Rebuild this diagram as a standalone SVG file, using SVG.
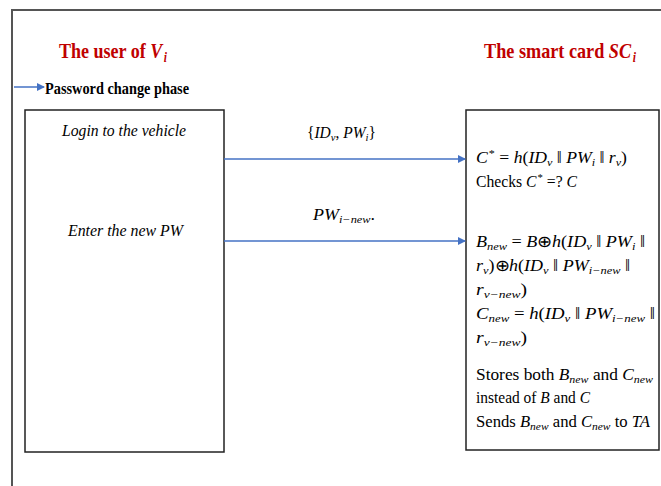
<svg xmlns="http://www.w3.org/2000/svg" width="661" height="486" viewBox="0 0 661 486">
<style>
.t{font-family:"Liberation Serif",serif;fill:#000}
.m{font-size:16px}
.i{font-style:italic}
.s{font-size:11px}
.title{font-size:22px;font-weight:bold;fill:#c00000}
.box{fill:#fff;stroke:#222;stroke-width:1.5}
.conn{stroke:#4472c4;stroke-width:1.5;fill:none}
</style>
<defs>
<marker id="ah" markerWidth="8" markerHeight="8" refX="7" refY="4" orient="auto" markerUnits="userSpaceOnUse">
<path d="M0,0 L8,4 L0,8 z" fill="#4472c4"/>
</marker>
</defs>
<rect x="0" y="0" width="661" height="486" fill="#fff"/>
<rect x="12" y="10" width="700" height="500" fill="none" stroke="#555" stroke-width="2"/>

<g id="headers">
<text class="t title" x="59" y="58" textLength="108" lengthAdjust="spacingAndGlyphs">The user of <tspan class="i">V</tspan><tspan class="i" font-size="14" dx="2" dy="4">i</tspan></text>
<text class="t title" x="484" y="58" textLength="152" lengthAdjust="spacingAndGlyphs">The smart card <tspan class="i">SC</tspan><tspan class="i" font-size="14" dx="2" dy="4">i</tspan></text>
</g>

<g id="phase">
<line class="conn" x1="14" y1="87" x2="44" y2="87" marker-end="url(#ah)"/>
<text class="t" x="45" y="94" font-size="17" font-weight="bold" textLength="144" lengthAdjust="spacingAndGlyphs">Password change phase</text>
</g>

<g id="user">
<rect class="box" x="25" y="110" width="199" height="342"/>
<text class="t m i" x="62" y="136" textLength="124" lengthAdjust="spacingAndGlyphs">Login to the vehicle</text>
<text class="t m i" x="68" y="236" textLength="115" lengthAdjust="spacingAndGlyphs">Enter the new PW</text>
</g>

<g id="smartcard">
<rect class="box" x="466" y="110" width="193" height="340"/>
<text class="t m" x="476" y="163" textLength="151" lengthAdjust="spacingAndGlyphs"><tspan class="i">C</tspan><tspan class="s" dx="1" dy="-6">*</tspan><tspan dy="6"> = </tspan><tspan class="i">h</tspan>(<tspan class="i">ID</tspan><tspan class="i s" dy="3">v</tspan><tspan dy="-3"> ‖ </tspan><tspan class="i">PW</tspan><tspan class="i s" dy="3">i</tspan><tspan dy="-3"> ‖ </tspan><tspan class="i">r</tspan><tspan class="i s" dy="3">v</tspan><tspan dy="-3">)</tspan></text>
<text class="t m" x="476" y="187" textLength="101" lengthAdjust="spacingAndGlyphs">Checks <tspan class="i">C</tspan><tspan class="s" dx="1" dy="-6">*</tspan><tspan dy="6"> =? </tspan><tspan class="i">C</tspan></text>

<text class="t m" x="476" y="247" textLength="169" lengthAdjust="spacingAndGlyphs"><tspan class="i">B</tspan><tspan class="i s" dy="3">new</tspan><tspan dy="-3"> = </tspan><tspan class="i">B</tspan>⊕<tspan class="i">h</tspan>(<tspan class="i">ID</tspan><tspan class="i s" dy="3">v</tspan><tspan dy="-3"> ‖ </tspan><tspan class="i">PW</tspan><tspan class="i s" dy="3">i</tspan><tspan dy="-3"> ‖</tspan></text>
<text class="t m" x="476" y="271" textLength="154" lengthAdjust="spacingAndGlyphs"><tspan class="i">r</tspan><tspan class="i s" dy="3">v</tspan><tspan dy="-3">)⊕</tspan><tspan class="i">h</tspan>(<tspan class="i">ID</tspan><tspan class="i s" dy="3">v</tspan><tspan dy="-3"> ‖ </tspan><tspan class="i">PW</tspan><tspan class="i s" dy="3">i−new</tspan><tspan dy="-3"> ‖</tspan></text>
<text class="t m" x="476" y="295" textLength="51" lengthAdjust="spacingAndGlyphs"><tspan class="i">r</tspan><tspan class="i s" dy="3">v−new</tspan><tspan dy="-3">)</tspan></text>
<text class="t m" x="476" y="319" textLength="179" lengthAdjust="spacingAndGlyphs"><tspan class="i">C</tspan><tspan class="i s" dy="3">new</tspan><tspan dy="-3"> = </tspan><tspan class="i">h</tspan>(<tspan class="i">ID</tspan><tspan class="i s" dy="3">v</tspan><tspan dy="-3"> ‖ </tspan><tspan class="i">PW</tspan><tspan class="i s" dy="3">i−new</tspan><tspan dy="-3"> ‖</tspan></text>
<text class="t m" x="476" y="343" textLength="51" lengthAdjust="spacingAndGlyphs"><tspan class="i">r</tspan><tspan class="i s" dy="3">v−new</tspan><tspan dy="-3">)</tspan></text>
<text class="t m" x="476" y="380" textLength="177" lengthAdjust="spacingAndGlyphs">Stores both  <tspan class="i">B</tspan><tspan class="i s" dy="3">new</tspan><tspan dy="-3"> and </tspan><tspan class="i">C</tspan><tspan class="i s" dy="3">new</tspan></text>
<text class="t m" x="476" y="403" textLength="114" lengthAdjust="spacingAndGlyphs">instead of <tspan class="i">B</tspan> and <tspan class="i">C</tspan></text>
<text class="t m" x="476" y="427" textLength="174" lengthAdjust="spacingAndGlyphs">Sends <tspan class="i">B</tspan><tspan class="i s" dy="3">new</tspan><tspan dy="-3"> and </tspan><tspan class="i">C</tspan><tspan class="i s" dy="3">new</tspan><tspan dy="-3"> to </tspan><tspan class="i">TA</tspan></text>
</g>

<g id="connectors">
<line class="conn" x1="224" y1="159" x2="465" y2="159" marker-end="url(#ah)"/>
<text class="t m" x="307" y="138" textLength="69" lengthAdjust="spacingAndGlyphs">{<tspan class="i">ID</tspan><tspan class="i s" dy="3">v</tspan><tspan dy="-3">, </tspan><tspan class="i">PW</tspan><tspan class="i s" dy="3">i</tspan><tspan dy="-3">}</tspan></text>
<line class="conn" x1="224" y1="241" x2="465" y2="241" marker-end="url(#ah)"/>
<text class="t m" x="313" y="220" textLength="62" lengthAdjust="spacingAndGlyphs"><tspan class="i">PW</tspan><tspan class="i s" dy="3">i−new</tspan><tspan dy="-3">.</tspan></text>
</g>
</svg>
